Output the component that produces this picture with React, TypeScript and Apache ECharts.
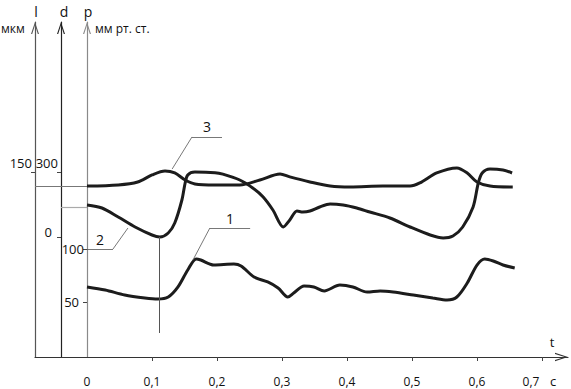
import React, { useEffect, useRef } from "react";
import * as echarts from "echarts";

// ---- data ----
// time axis, seconds
const xLabelValues = [0, 0.1, 0.2, 0.3, 0.4, 0.5, 0.6, 0.7];
const xTickValues = [0.1, 0.2, 0.3, 0.4, 0.5, 0.6, 0.7];
// left axes ticks
const lTicks = [150];
const dTicks = [0, 300];
const pTicks = [50, 100];

// curve 1: pressure p, mm Hg
const curve1Time = [0, 0.028, 0.058, 0.089, 0.109, 0.125, 0.14, 0.155, 0.168, 0.175, 0.195, 0.226, 0.237, 0.257, 0.278, 0.294, 0.309, 0.318, 0.334, 0.349, 0.365, 0.389, 0.409, 0.431, 0.451, 0.471, 0.502, 0.532, 0.554, 0.569, 0.585, 0.6, 0.612, 0.625, 0.64, 0.658];
const curve1P = [64.2, 61.3, 56.6, 53.8, 52.8, 54.7, 64.2, 80.2, 90.6, 89.6, 84.9, 85.8, 84.0, 73.6, 68.9, 63.2, 54.7, 58.5, 65.1, 64.2, 60.4, 66.0, 64.2, 59.4, 60.4, 59.4, 56.6, 53.8, 51.9, 54.7, 67.9, 84.9, 90.6, 88.7, 84.9, 82.1];

// curve 2: d, µm
const curve2Time = [0, 0.023, 0.048, 0.074, 0.1, 0.112, 0.125, 0.135, 0.146, 0.151, 0.155, 0.166, 0.197, 0.209, 0.235, 0.255, 0.271, 0.286, 0.302, 0.312, 0.323, 0.332, 0.343, 0.358, 0.374, 0.394, 0.415, 0.435, 0.466, 0.497, 0.528, 0.548, 0.563, 0.578, 0.594, 0.602, 0.608, 0.62, 0.64, 0.654];
const curve2D = [147.7, 133.8, 92.3, 46.2, 9.2, 0, 18.5, 64.6, 170.8, 249.2, 286.2, 300.0, 297.0, 290.0, 263.1, 226.2, 184.6, 124.6, 46.2, 78.5, 120, 115.4, 120, 138.5, 152.3, 147.7, 133.8, 115.4, 87.7, 46.2, 9.2, -4.6, 4.6, 46.2, 138.5, 249.2, 295.4, 313.8, 309.2, 295.4];

// curve 3: l, µm
const curve3Time = [0, 0.048, 0.078, 0.1, 0.12, 0.135, 0.151, 0.166, 0.197, 0.235, 0.266, 0.297, 0.312, 0.343, 0.374, 0.405, 0.455, 0.497, 0.512, 0.538, 0.569, 0.585, 0.6, 0.62, 0.655];
const curve3L = [138.6, 139.5, 141.9, 147.6, 150.8, 149.2, 143.5, 140.3, 139.5, 139.5, 143.5, 148.4, 146.0, 141.9, 138.6, 137.8, 138.6, 138.6, 141.1, 149.2, 153.3, 149.2, 141.9, 138.6, 137.8];

// annotation anchors (in data units of each curve's axes)
const label1Leader = { curve: [0.163, 89.6], elbow: [0.189, 119.8], end: [0.251, 119.8] };
const label2Leader = { start: [0, -55.4], elbow: [0.04, -55.4], curve: [0.063, 41.5] };
const label3Leader = { curve: [0.131, 152.4], elbow: [0.1615, 178.4], end: [0.2077, 178.4] };
const curve2Baseline = { from: -0.04, to: 0, value: 138.5 };
const curve3Baseline = { from: -0.08, to: 0, value: 138.6 };
const marker = { time: 0.1108, from: 0, to: -443 };

const FONT = "'Open Sans', 'DejaVu Sans', sans-serif";
const ARROW = "path://M0,12L4,0L8,12L6.8,12L4,3.2L1.2,12Z";

const pair = (xs: number[], ys: number[]) => xs.map((x, i) => [x, ys[i]]);

const fmtTime = (v: number) => {
  const s = v === 0 ? "0" : v.toFixed(1).replace(".", ",");
  return Math.abs(v - 0.7) < 1e-9 ? `{last|${s}}` : `{n|${s}}`;
};

function yAxisBase(offset: number, min: number, max: number, color: string, ticks: number[], formatter: (v: number) => string, rich: any) {
  return {
    type: "value",
    position: "left",
    offset,
    min,
    max,
    axisLine: {
      show: true,
      onZero: false,
      lineStyle: { color, width: 1.2 },
      symbol: ["none", ARROW],
      symbolSize: [8, 12],
      symbolOffset: [0, -6],
    },
    axisTick: { show: true, customValues: ticks, length: 4, lineStyle: { color: "#444", width: 1 } },
    axisLabel: {
      show: true,
      customValues: ticks,
      margin: 3,
      color: "#111",
      fontSize: 13,
      fontFamily: FONT,
      formatter,
      rich,
    },
    splitLine: { show: false },
  };
}

const richBase = { color: "#111", fontSize: 13, fontFamily: FONT };
const richX = { color: "#111", fontSize: 12, fontFamily: FONT };

export default function App() {
  const ref = useRef<HTMLDivElement>(null);
  useEffect(() => {
    document.body.style.margin = "0";
    if (!ref.current) return;
    const chart = echarts.init(ref.current, null, { renderer: "svg" });
    const leaderStyle = { color: "#555", width: 0.8, type: "solid" };
    const lbl = (text: string) => ({
      show: true,
      formatter: text,
      position: "insideMiddleTop",
      distance: 3,
      color: "#111",
      fontSize: 14,
      fontFamily: FONT,
    });
    const option: any = {
      animation: false,
      backgroundColor: "#fff",
      grid: { left: 35, right: 3, top: 22, bottom: 32, containLabel: false, outerBoundsMode: "none" },
      xAxis: {
        type: "value",
        min: -0.08,
        max: 0.74,
        position: "bottom",
        axisLine: {
          show: true,
          onZero: false,
          lineStyle: { color: "#333", width: 1.2 },
          symbol: ["none", ARROW],
          symbolSize: [10, 13],
          symbolOffset: [0, -6.5],
        },
        axisTick: { show: true, customValues: xTickValues, length: 4, lineStyle: { color: "#444" } },
        axisLabel: {
          show: true,
          customValues: xLabelValues,
          margin: 18,
          color: "#111",
          fontSize: 12,
          fontFamily: FONT,
          formatter: fmtTime,
          rich: {
            n: { ...richX },
            last: { ...richX, padding: [0, 22, 0, 0] },
          },
        },
        splitLine: { show: false },
      },
      yAxis: [
        yAxisBase(-52, -1.9, 314.2, "#8a8a8a", pTicks, (v: number) => (v === 50 ? `{b|${v}}` : `{a|${v}}`), {
          a: { ...richBase, padding: [0, 0, 0, 0] },
          b: { ...richBase, padding: [0, 5, 0, 0] },
        }),
        yAxisBase(-26, -553.8, 992.3, "#222", dTicks, (v: number) => (v === 0 ? `{b|${v}}` : `{a|${v}}`), {
          a: { ...richBase, padding: [0, 0, 18, 0] },
          b: { ...richBase, padding: [0, 6, 10, 0] },
        }),
        yAxisBase(0, 0, 271.6, "#555", lTicks, (v: number) => `{a|${v}}`, {
          a: { ...richBase, padding: [0, 0, 18, 0] },
        }),
      ],
      series: [
        {
          name: "1",
          type: "line",
          xAxisIndex: 0,
          yAxisIndex: 0,
          data: pair(curve1Time, curve1P),
          smooth: 0.3,
          showSymbol: false,
          lineStyle: { color: "#1c1c1c", width: 3 },
          markLine: {
            silent: true,
            symbol: ["none", "none"],
            label: { show: false },
            lineStyle: leaderStyle,
            data: [
              [{ coord: label1Leader.curve }, { coord: label1Leader.elbow }],
              [{ coord: label1Leader.elbow, label: lbl("1") }, { coord: label1Leader.end, label: lbl("1") }],
            ],
          },
        },
        {
          name: "2",
          type: "line",
          xAxisIndex: 0,
          yAxisIndex: 1,
          data: pair(curve2Time, curve2D),
          smooth: 0.3,
          showSymbol: false,
          lineStyle: { color: "#1c1c1c", width: 3 },
          markLine: {
            silent: true,
            symbol: ["none", "none"],
            label: { show: false },
            lineStyle: leaderStyle,
            data: [
              [
                { coord: [curve2Baseline.from, curve2Baseline.value], lineStyle: { color: "#aaa", width: 1.2, type: "solid" } },
                { coord: [curve2Baseline.to, curve2Baseline.value], lineStyle: { color: "#aaa", width: 1.2, type: "solid" } },
              ],
              [
                { coord: [marker.time, marker.from], lineStyle: { color: "#555", width: 1, type: "solid" } },
                { coord: [marker.time, marker.to], lineStyle: { color: "#555", width: 1, type: "solid" } },
              ],
              [{ coord: label2Leader.start, label: lbl("2") }, { coord: label2Leader.elbow, label: lbl("2") }],
              [{ coord: label2Leader.elbow }, { coord: label2Leader.curve }],
            ],
          },
        },
        {
          name: "3",
          type: "line",
          xAxisIndex: 0,
          yAxisIndex: 2,
          data: pair(curve3Time, curve3L),
          smooth: 0.3,
          showSymbol: false,
          lineStyle: { color: "#1c1c1c", width: 3 },
          markLine: {
            silent: true,
            symbol: ["none", "none"],
            label: { show: false },
            lineStyle: leaderStyle,
            data: [
              [
                { coord: [curve3Baseline.from, curve3Baseline.value], lineStyle: { color: "#777", width: 1, type: "solid" } },
                { coord: [curve3Baseline.to, curve3Baseline.value], lineStyle: { color: "#777", width: 1, type: "solid" } },
              ],
              [{ coord: label3Leader.curve }, { coord: label3Leader.elbow }],
              [{ coord: label3Leader.elbow, label: lbl("3") }, { coord: label3Leader.end, label: lbl("3") }],
            ],
          },
        },
      ],
      graphic: [
        { type: "text", x: 36, y: 11, style: { text: "l", fontSize: 14, fontFamily: FONT, fill: "#111", textAlign: "center", textVerticalAlign: "middle" } },
        { type: "text", x: 64, y: 11, style: { text: "d", fontSize: 14, fontFamily: FONT, fill: "#111", textAlign: "center", textVerticalAlign: "middle" } },
        { type: "text", x: 88, y: 11, style: { text: "p", fontSize: 14, fontFamily: FONT, fill: "#111", textAlign: "center", textVerticalAlign: "middle" } },
        { type: "text", x: 1, y: 28, style: { text: "мкм", fontSize: 12, fontFamily: FONT, fill: "#111", textAlign: "left", textVerticalAlign: "middle" } },
        { type: "text", x: 95, y: 28, style: { text: "мм рт. ст.", fontSize: 12, fontFamily: FONT, fill: "#111", textAlign: "left", textVerticalAlign: "middle" } },
        { type: "text", x: 552, y: 342, style: { text: "t", fontSize: 13, fontFamily: FONT, fill: "#111", textAlign: "center", textVerticalAlign: "middle" } },
        { type: "text", x: 553, y: 381, style: { text: "c", fontSize: 13, fontFamily: FONT, fill: "#111", textAlign: "center", textVerticalAlign: "middle" } },
      ],
    };
    chart.setOption(option);
    return () => chart.dispose();
  }, []);
  return <div ref={ref} style={{ width: 571, height: 389 }} />;
}
